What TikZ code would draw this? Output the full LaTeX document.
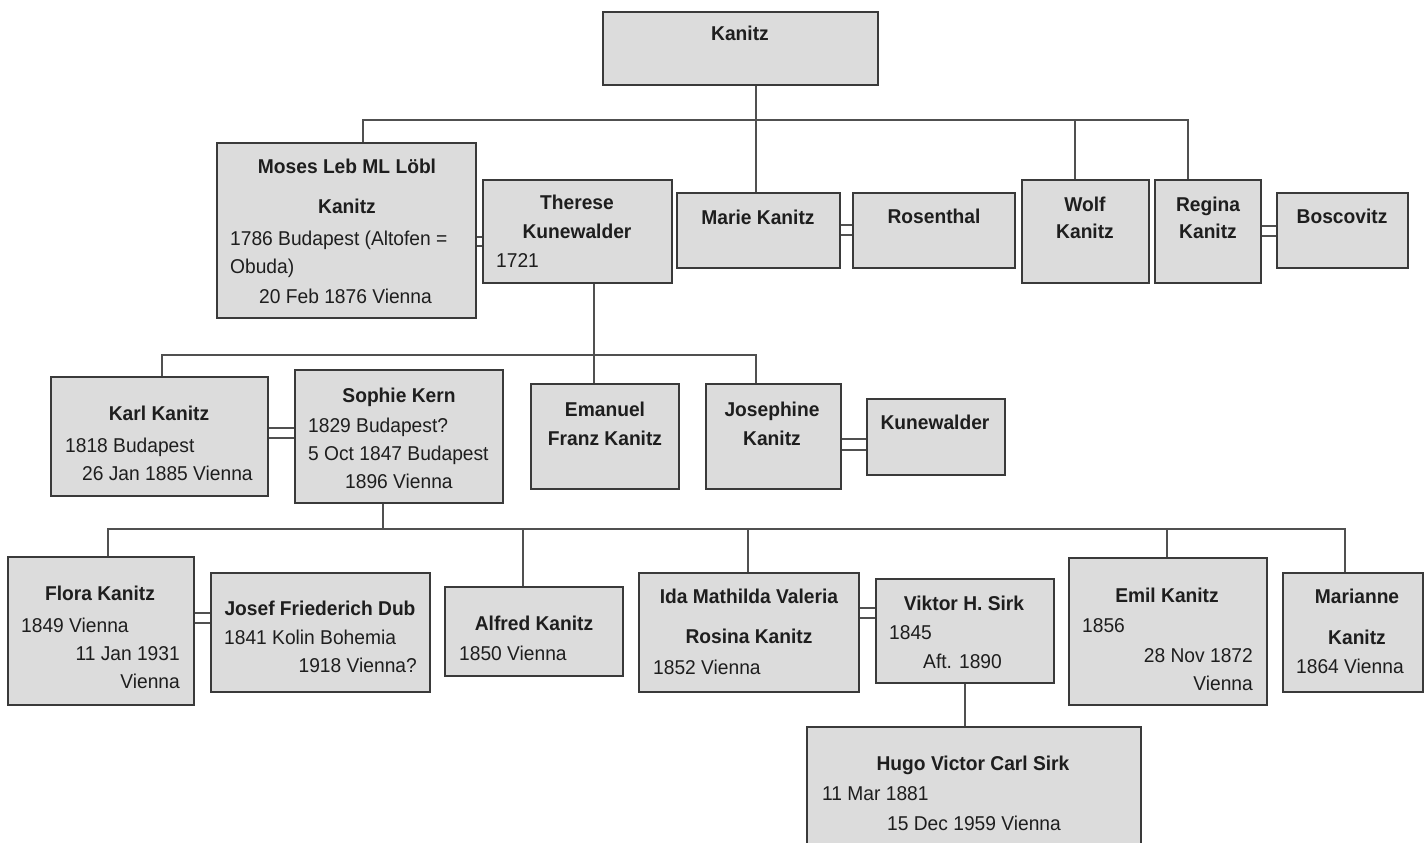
\documentclass[tikz,border=0pt]{standalone}
\usepackage{fontspec}
\setmainfont{Liberation Sans}[FakeStretch=0.96]
\usetikzlibrary{fit}
\definecolor{boxfill}{HTML}{DCDCDC}
\definecolor{boxline}{HTML}{3A3A3A}
\definecolor{connline}{HTML}{505050}
\definecolor{txt}{HTML}{1E1E1E}
\begin{document}
\begin{tikzpicture}[x=1pt,y=-1pt,
 pbox/.style={draw=boxline, fill=boxfill, line width=1.8pt, inner sep=0pt, rectangle},
 conn/.style={draw=connline, line width=1.6pt, line join=miter},
 nm/.style={font=\fontsize{20}{24}\selectfont\bfseries, text=txt, anchor=base, inner sep=0pt},
 tl/.style={font=\fontsize{20}{24}\selectfont, text=txt, anchor=base west, inner sep=0pt},
 tr/.style={font=\fontsize{20}{24}\selectfont, text=txt, anchor=base east, inner sep=0pt}]

\useasboundingbox[fill=white] (0,0) rectangle (1424,843);

% ---------- boxes ----------
\node[pbox, fit={(603,12) (878,85)}] (kanitz) {};
\node[pbox, fit={(217,143) (476,318)}] (moses) {};
\node[pbox, fit={(483,180) (672,283)}] (therese) {};
\node[pbox, fit={(677,193) (840,268)}] (marie) {};
\node[pbox, fit={(853,193) (1015,268)}] (rosenthal) {};
\node[pbox, fit={(1022,180) (1149,283)}] (wolf) {};
\node[pbox, fit={(1155,180) (1261,283)}] (regina) {};
\node[pbox, fit={(1277,193) (1408,268)}] (boscovitz) {};
\node[pbox, fit={(51,377) (268,496)}] (karl) {};
\node[pbox, fit={(295,370) (503,503)}] (sophie) {};
\node[pbox, fit={(531,384) (679,489)}] (emanuel) {};
\node[pbox, fit={(706,384) (841,489)}] (josephine) {};
\node[pbox, fit={(867,399) (1005,475)}] (kunewalder) {};
\node[pbox, fit={(8,557) (194,705)}] (flora) {};
\node[pbox, fit={(211,573) (430,692)}] (josef) {};
\node[pbox, fit={(445,587) (623,676)}] (alfred) {};
\node[pbox, fit={(639,573) (859,692)}] (ida) {};
\node[pbox, fit={(876,579) (1054,683)}] (viktor) {};
\node[pbox, fit={(807,727) (1141,880)}] (hugo) {};
\node[pbox, fit={(1069,558) (1267,705)}] (emil) {};
\node[pbox, fit={(1283,573) (1423,692)}] (marianne) {};

% ---------- texts ----------
\node[nm] (t-kanitz) at (740,41) {Kanitz};

\node[nm] (t-mo1) at (347,173) {Moses Leb ML Löbl};
\node[nm] (t-mo2) at (347,213) {Kanitz};
\node[tl] (t-mo3) at (230,245) {1786 Budapest (Altofen =};
\node[tl] (t-mo4) at (230,273) {Obuda)};
\node[tl] (t-mo5) at (259,303) {20 Feb 1876 Vienna};

\node[nm] (t-th1) at (577,209) {Therese};
\node[nm] (t-th2) at (577,238) {Kunewalder};
\node[tl] (t-th3) at (496,267) {1721};

\node[nm] (t-marie) at (758,224) {Marie Kanitz};
\node[nm] (t-rosenthal) at (934,223) {Rosenthal};
\node[nm] (t-wo1) at (1085,211) {Wolf};
\node[nm] (t-wo2) at (1085,238) {Kanitz};
\node[nm] (t-re1) at (1208,211) {Regina};
\node[nm] (t-re2) at (1208,238) {Kanitz};
\node[nm] (t-bosc) at (1342,223) {Boscovitz};

\node[nm] (t-ka1) at (159,420) {Karl Kanitz};
\node[tl] (t-ka2) at (65,452) {1818 Budapest};
\node[tl] (t-ka3) at (82,480) {26 Jan 1885 Vienna};

\node[nm] (t-so1) at (399,402) {Sophie Kern};
\node[tl] (t-so2) at (308,432) {1829 Budapest?};
\node[tl] (t-so3) at (308,460) {5 Oct 1847 Budapest};
\node[tl] (t-so4) at (345,488) {1896 Vienna};

\node[nm] (t-em1) at (605,416) {Emanuel};
\node[nm] (t-em2) at (605,445) {Franz Kanitz};
\node[nm] (t-jo1) at (772,416) {Josephine};
\node[nm] (t-jo2) at (772,445) {Kanitz};
\node[nm] (t-kun) at (935,429) {Kunewalder};

\node[nm] (t-fl1) at (100,600) {Flora Kanitz};
\node[tl] (t-fl2) at (21,632) {1849 Vienna};
\node[tr] (t-fl3) at (180,660) {11 Jan 1931};
\node[tr] (t-fl4) at (180,688) {Vienna};

\node[nm] (t-js1) at (320,615) {Josef Friederich Dub};
\node[tl] (t-js2) at (224,644) {1841 Kolin Bohemia};
\node[tr] (t-js3) at (417,672) {1918 Vienna?};

\node[nm] (t-al1) at (534,630) {Alfred Kanitz};
\node[tl] (t-al2) at (459,660) {1850 Vienna};

\node[nm] (t-id1) at (749,603) {Ida Mathilda Valeria};
\node[nm] (t-id2) at (749,643) {Rosina Kanitz};
\node[tl] (t-id3) at (653,674) {1852 Vienna};

\node[nm] (t-vi1) at (964,610) {Viktor H. Sirk};
\node[tl] (t-vi2) at (889,639) {1845};
\node[tl] (t-vi3) at (923,668) {Aft. 1890};

\node[nm] (t-hu1) at (973,770) {Hugo Victor Carl Sirk};
\node[tl] (t-hu2) at (822,800) {11 Mar 1881};
\node[tl] (t-hu3) at (887,830) {15 Dec 1959 Vienna};

\node[nm] (t-ei1) at (1167,602) {Emil Kanitz};
\node[tl] (t-ei2) at (1082,632) {1856};
\node[tr] (t-ei3) at (1253,662) {28 Nov 1872};
\node[tr] (t-ei4) at (1253,690) {Vienna};

\node[nm] (t-ma1) at (1357,603) {Marianne};
\node[nm] (t-ma2) at (1357,644) {Kanitz};
\node[tl] (t-ma3) at (1296,673) {1864 Vienna};

% ---------- connectors ----------
\coordinate (j0) at (756,120);
\coordinate (busA) at (363,120);
\coordinate (busB) at (1188,120);
\coordinate (jw) at (1075,120);
\draw[conn] (kanitz.south -| j0) -- (j0) -- (marie.north -| j0);
\draw[conn] (moses.north -| busA) -- (busA) -- (busB) -- (regina.north -| busB);
\draw[conn] (jw) -- (wolf.north -| jw);

\coordinate (busC) at (162,355);
\coordinate (busD) at (756,355);
\coordinate (jt) at (594,355);
\draw[conn] (therese.south -| jt) -- (emanuel.north -| jt);
\draw[conn] (karl.north -| busC) -- (busC) -- (busD) -- (josephine.north -| busD);

\coordinate (busE) at (108,529);
\coordinate (busF) at (1345,529);
\coordinate (js) at (383,529);
\coordinate (ja) at (523,529);
\coordinate (ji) at (748,529);
\coordinate (je) at (1167,529);
\draw[conn] (sophie.south -| js) -- (js);
\draw[conn] (flora.north -| busE) -- (busE) -- (busF) -- (marianne.north -| busF);
\draw[conn] (ja) -- (alfred.north -| ja);
\draw[conn] (ji) -- (ida.north -| ji);
\draw[conn] (je) -- (emil.north -| je);

\coordinate (jv) at (965,700);
\draw[conn] (viktor.south -| jv) -- (hugo.north -| jv);

% ---------- spouse double lines ----------
\draw[conn] (moses.east |- 0,237) -- (therese.west |- 0,237);
\draw[conn] (moses.east |- 0,246) -- (therese.west |- 0,246);
\draw[conn] (marie.east |- 0,225) -- (rosenthal.west |- 0,225);
\draw[conn] (marie.east |- 0,235) -- (rosenthal.west |- 0,235);
\draw[conn] (regina.east |- 0,226) -- (boscovitz.west |- 0,226);
\draw[conn] (regina.east |- 0,236) -- (boscovitz.west |- 0,236);
\draw[conn] (karl.east |- 0,428) -- (sophie.west |- 0,428);
\draw[conn] (karl.east |- 0,438) -- (sophie.west |- 0,438);
\draw[conn] (josephine.east |- 0,439) -- (kunewalder.west |- 0,439);
\draw[conn] (josephine.east |- 0,450) -- (kunewalder.west |- 0,450);
\draw[conn] (flora.east |- 0,613) -- (josef.west |- 0,613);
\draw[conn] (flora.east |- 0,623) -- (josef.west |- 0,623);
\draw[conn] (ida.east |- 0,608) -- (viktor.west |- 0,608);
\draw[conn] (ida.east |- 0,618) -- (viktor.west |- 0,618);
\end{tikzpicture}
\end{document}
